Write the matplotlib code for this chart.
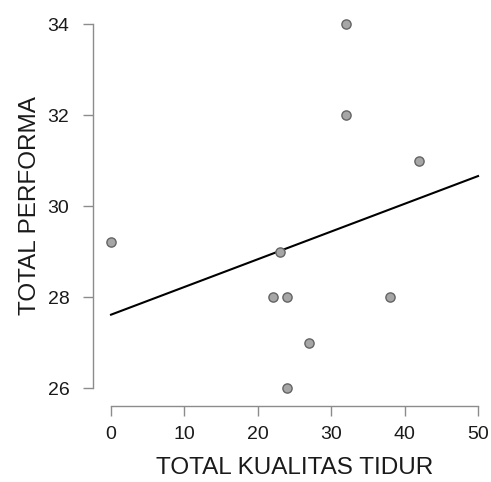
import matplotlib
matplotlib.use("Agg")
import matplotlib.pyplot as plt
import numpy as np

# data
kualitas_tidur = [0, 22, 23, 24, 24, 27, 32, 32, 38, 42]
performa = [29.2, 28, 29, 28, 26, 27, 34, 32, 28, 31]
x_ticks = [0, 10, 20, 30, 40, 50]
y_ticks = [26, 28, 30, 32, 34]

plt.rcParams['font.family'] = ['Liberation Sans', 'DejaVu Sans']

fig = plt.figure(figsize=(4.91, 4.82), dpi=100)
ax = fig.add_axes([0.2261, 0.195, 0.7475, 0.7552])

# least squares line over the x tick range
slope, intercept = np.polyfit(kualitas_tidur, performa, 1)
xs = np.array([x_ticks[0], x_ticks[-1]])
ax.plot(xs, intercept + slope * xs, color='black', lw=1.5, clip_on=False, zorder=2)

ax.scatter(kualitas_tidur, performa, s=44, color='#a6a6a6', edgecolor='#646464',
           linewidth=1.0, clip_on=False, zorder=3)

ax.set_xlim(x_ticks[0], x_ticks[-1])
ax.set_ylim(y_ticks[0], y_ticks[-1])
ax.set_xticks(x_ticks)
ax.set_yticks(y_ticks)

for side in ['top', 'right']:
    ax.spines[side].set_visible(False)
for side in ['left', 'bottom']:
    ax.spines[side].set_position(('outward', 13))
    ax.spines[side].set_color('#8c8c8c')
    ax.spines[side].set_linewidth(1.0)

ax.tick_params(axis='both', length=7, width=1.0, color='#8c8c8c',
               labelsize=14, labelcolor='#1a1a1a')
ax.tick_params(axis='x', pad=7)
ax.tick_params(axis='y', pad=10)

ax.set_xlabel('TOTAL KUALITAS TIDUR', fontsize=17.5, color='#1a1a1a', labelpad=10.5)
ax.set_ylabel('TOTAL PERFORMA', fontsize=17.5, color='#1a1a1a', labelpad=5)

fig.savefig('out.png', dpi=100)
